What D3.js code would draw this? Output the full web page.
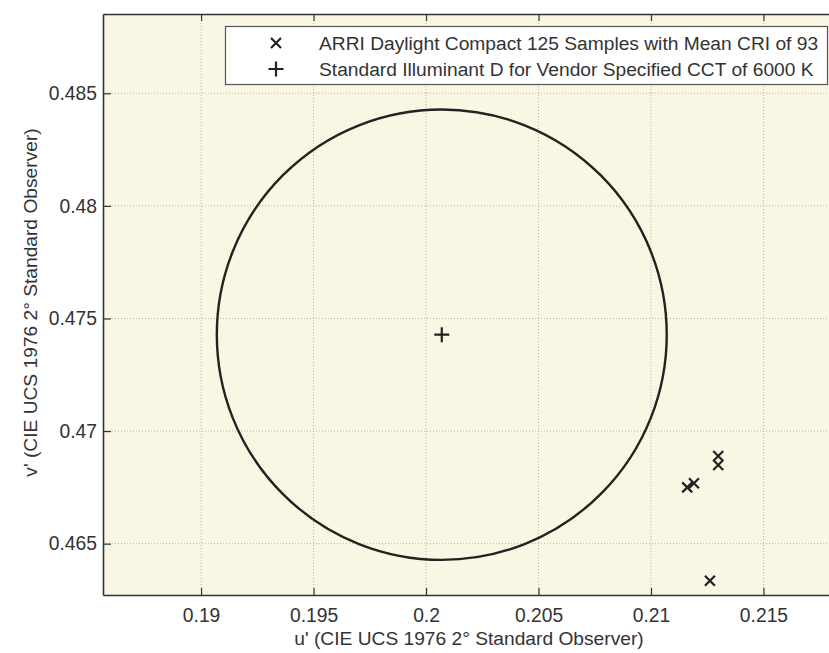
<!DOCTYPE html>
<html>
<head>
<meta charset="utf-8">
<script src="https://cdn.jsdelivr.net/npm/d3@7"></script>
<style>
  body { margin: 0; background: #fff; }
  text { font-family: "Liberation Sans", Arial, sans-serif; fill: #333; }
</style>
</head>
<body>
<svg id="chart" width="829" height="653"></svg>
<script>
// ---- data ----
const sampleU = [0.21299, 0.21299, 0.21161, 0.21191, 0.21262];
const sampleV = [0.46889, 0.46849, 0.46750, 0.46768, 0.46335];
const refU = [0.2007];
const refV = [0.47428];
const circleRadius = 0.01;
const xTicks = [0.19, 0.195, 0.2, 0.205, 0.21, 0.215];
const yTicks = [0.465, 0.47, 0.475, 0.48, 0.485];
const xDomain = [0.18564, 0.21818];
const yDomain = [0.46272, 0.48852];
const legendLabels = [
  "ARRI Daylight Compact 125 Samples with Mean CRI of 93",
  "Standard Illuminant D for Vendor Specified CCT of 6000 K"
];
const xLabel = "u' (CIE UCS 1976 2\u00B0 Standard Observer)";
const yLabel = "v' (CIE UCS 1976 2\u00B0 Standard Observer)";

// ---- layout ----
const L = 103, R = 835, T = 14, B = 595;
const svg = d3.select("#chart");
const x = d3.scaleLinear().domain(xDomain).range([L, R]);
const y = d3.scaleLinear().domain(yDomain).range([B, T]);

svg.append("rect").attr("x", L).attr("y", T).attr("width", R - L).attr("height", B - T)
  .attr("fill", "#faf6e4");

// grid
const grid = svg.append("g");
grid.selectAll(".gx").data(xTicks).enter().append("line")
  .attr("x1", d => x(d)).attr("x2", d => x(d)).attr("y1", T).attr("y2", B)
  .attr("stroke", "#b5b5b0").attr("stroke-width", 1).attr("stroke-dasharray", "1,2");
grid.selectAll(".gy").data(yTicks).enter().append("line")
  .attr("y1", d => y(d)).attr("y2", d => y(d)).attr("x1", L).attr("x2", R)
  .attr("stroke", "#b5b5b0").attr("stroke-width", 1).attr("stroke-dasharray", "1,2");

// axes
const fmt = d => String(+d.toFixed(3));
const xAxis = svg.append("g").attr("transform", `translate(0,${B})`)
  .call(d3.axisBottom(x).tickValues(xTicks).tickFormat(fmt).tickSizeInner(-7).tickSizeOuter(0).tickPadding(13));
const xAxisTop = svg.append("g").attr("transform", `translate(0,${T})`)
  .call(d3.axisTop(x).tickValues(xTicks).tickFormat("").tickSizeInner(-7).tickSizeOuter(0));
const yAxis = svg.append("g").attr("transform", `translate(${L},0)`)
  .call(d3.axisLeft(y).tickValues(yTicks).tickFormat(fmt).tickSizeInner(-8).tickSizeOuter(0).tickPadding(6));
[xAxis, xAxisTop, yAxis].forEach(g => {
  g.select(".domain").attr("stroke", "#333").attr("stroke-width", 1.6);
  g.selectAll(".tick line").attr("stroke", "#333").attr("stroke-width", 1.2);
  g.selectAll("text").attr("font-size", 19.3).attr("fill", "#333")
    .style("font-family", "'Liberation Sans', Arial, sans-serif");
});

// circle
svg.append("ellipse")
  .attr("cx", x(refU[0])).attr("cy", y(refV[0]))
  .attr("rx", x(refU[0] + circleRadius) - x(refU[0]))
  .attr("ry", y(refV[0]) - y(refV[0] + circleRadius))
  .attr("fill", "none").attr("stroke", "#222").attr("stroke-width", 2.4);

// markers
function cross(g, cx, cy, s) {
  g.append("path").attr("d", `M${cx - s},${cy - s}L${cx + s},${cy + s}M${cx - s},${cy + s}L${cx + s},${cy - s}`)
    .attr("stroke", "#222").attr("stroke-width", 2.2).attr("fill", "none");
}
function plus(g, cx, cy, s) {
  g.append("path").attr("d", `M${cx - s},${cy}L${cx + s},${cy}M${cx},${cy - s}L${cx},${cy + s}`)
    .attr("stroke", "#222").attr("stroke-width", 2.2).attr("fill", "none");
}
const marks = svg.append("g");
sampleU.forEach((u, i) => cross(marks, x(u), y(sampleV[i]), 5));
refU.forEach((u, i) => plus(marks, x(u), y(refV[i]), 7.5));

// legend
const lg = svg.append("g");
lg.append("rect").attr("x", 225.5).attr("y", 26.5).attr("width", 602).attr("height", 58)
  .attr("fill", "#fff").attr("stroke", "#555").attr("stroke-width", 1.2);
cross(lg, 276, 43, 5);
plus(lg, 276, 69, 7.5);
lg.selectAll(".lt").data(legendLabels).enter().append("text")
  .attr("x", 319).attr("y", (d, i) => 50 + i * 26)
  .attr("font-size", 19.2).text(d => d);

// axis labels
svg.append("text").attr("x", (L + R) / 2).attr("y", 645).attr("text-anchor", "middle")
  .attr("font-size", 19.2).text(xLabel);
svg.append("text").attr("transform", `translate(37,${(T + B) / 2 - 2}) rotate(-90)`)
  .attr("text-anchor", "middle").attr("font-size", 19.2).text(yLabel);
</script>
</body>
</html>
